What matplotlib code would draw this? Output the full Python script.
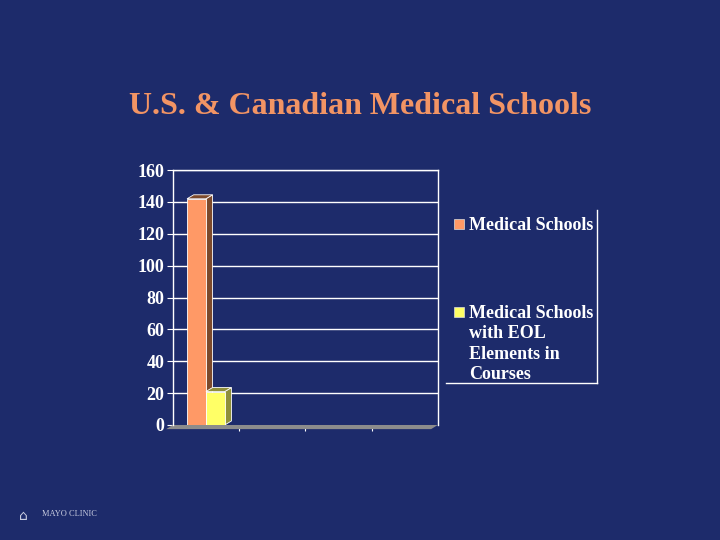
import numpy as np
import matplotlib.pyplot as plt
from matplotlib.patches import Polygon, Rectangle

# data
series = ['Medical Schools', 'Medical Schools\nwith EOL\nElements in\nCourses']
values = [142, 21]
colors = ['#ff9966', '#ffff66']
side_colors = ['#7c4a2c', '#8f8f3a']
yticks = [0, 20, 40, 60, 80, 100, 120, 140, 160]
n_cats = 4

bg = '#1d2b6b'
serif = ['Liberation Serif', 'DejaVu Serif']

fig = plt.figure(figsize=(7.2, 5.4), dpi=100)
fig.patch.set_facecolor(bg)

fig.text(0.5, 0.803, 'U.S. & Canadian Medical Schools', ha='center', va='center',
         fontsize=23, fontweight='bold', color='#f29464', family=serif)

ax = fig.add_axes([0.240, 0.213, 0.368, 0.472])
ax.set_facecolor('none')
ax.set_xlim(0, n_cats)
ax.set_ylim(0, 160)

# gridlines
for y in yticks[1:]:
    ax.axhline(y, color='white', lw=1.0, zorder=1)

# floor
dx, dy = 0.1, 2.5
ax.add_patch(Polygon([[-0.1, -2.6], [n_cats - 0.1, -2.6], [n_cats, 0], [0, 0]],
                     closed=True, facecolor='#8c8c8c', edgecolor='none', zorder=2, clip_on=False))

w = 0.285
xs = [0.5 - w / 2, 0.5 + w / 2]
for i, (x, v) in enumerate(zip(xs, values)):
    left = x - w / 2
    right = x + w / 2
    # side face
    ax.add_patch(Polygon([[right, 0], [right + dx, dy], [right + dx, v + dy], [right, v]],
                         closed=True, facecolor=side_colors[i], edgecolor='white', lw=0.6, zorder=3 + i))
    # top face
    ax.add_patch(Polygon([[left, v], [left + dx, v + dy], [right + dx, v + dy], [right, v]],
                         closed=True, facecolor=side_colors[i], edgecolor='white', lw=0.6, zorder=3 + i))
    ax.bar(x, v, width=w, color=colors[i], edgecolor='white', lw=0.6, zorder=3 + i)

for s in ['top', 'right', 'left']:
    ax.spines[s].set_color('white')
    ax.spines[s].set_linewidth(1.0)
ax.spines['bottom'].set_visible(False)

ax.set_yticks(yticks)
ax.set_yticklabels([str(t) for t in yticks], fontsize=13, fontweight='bold',
                   color='white', family=serif)
ax.tick_params(axis='y', colors='white', length=4, pad=2)
ax.set_xticks(range(1, n_cats))
ax.set_xticklabels([])
ax.tick_params(axis='x', colors='white', length=4, direction='out')

# legend
leg_y = [0.585, 0.422]
for i, name in enumerate(series):
    fig.patches.append(Rectangle((0.630, leg_y[i] - 0.009), 0.014, 0.019,
                                 transform=fig.transFigure, facecolor=colors[i],
                                 edgecolor='#dddddd', lw=0.5))
    fig.text(0.652, leg_y[i] + 0.013, name, ha='left', va='top', fontsize=13,
             fontweight='bold', color='white', family=serif, linespacing=1.26)
fig.add_artist(plt.Line2D([0.829, 0.829], [0.29, 0.612], color='white', lw=1.0,
                          transform=fig.transFigure))
fig.add_artist(plt.Line2D([0.620, 0.829], [0.29, 0.29], color='white', lw=1.0,
                          transform=fig.transFigure))

# footer logo text
fig.text(0.058, 0.048, 'MAYO CLINIC', ha='left', va='center', fontsize=6,
         color='#c8cce0', family=serif)
fig.text(0.027, 0.045, '\u2302', ha='left', va='center', fontsize=10, color='#c8cce0')

fig.savefig('out.png', dpi=100, facecolor=bg)
